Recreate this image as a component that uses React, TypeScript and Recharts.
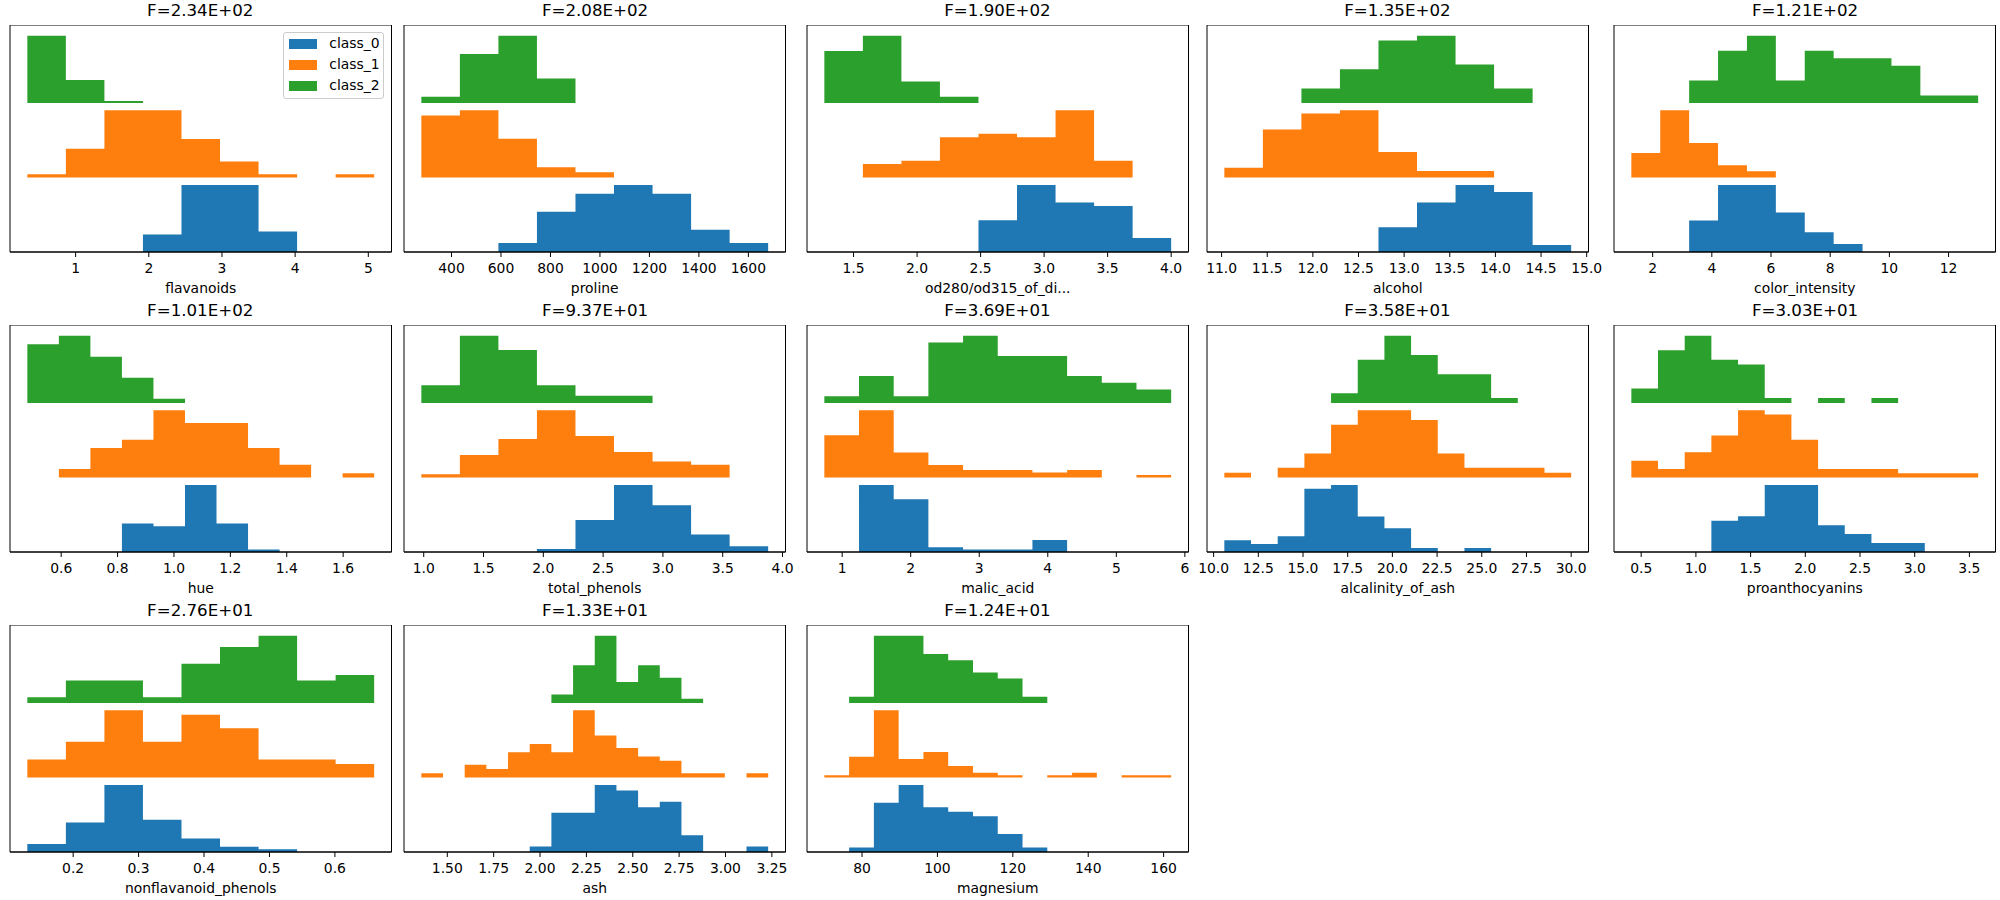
import { ComposedChart, Area, XAxis, YAxis, ReferenceArea } from 'recharts';

const FONT = '"DejaVu Sans", Verdana, sans-serif';

const classNames = ['class_0', 'class_1', 'class_2'];
const classColors = ['#1f77b4', '#ff7f0e', '#2ca02c'];

const featureNames = [
  'flavanoids', 'proline', 'od280/od315_of_di...', 'alcohol', 'color_intensity',
  'hue', 'total_phenols', 'malic_acid', 'alcalinity_of_ash', 'proanthocyanins',
  'nonflavanoid_phenols', 'ash', 'magnesium',
];
const fScores = [
  'F=2.34E+02', 'F=2.08E+02', 'F=1.90E+02', 'F=1.35E+02', 'F=1.21E+02',
  'F=1.01E+02', 'F=9.37E+01', 'F=3.69E+01', 'F=3.58E+01', 'F=3.03E+01',
  'F=2.76E+01', 'F=1.33E+01', 'F=1.24E+01',
];

// feature min / max (histogram range)
const rangeLow = [0.34, 278, 1.27, 11.03, 1.28, 0.48, 0.98, 0.74, 10.6, 0.41, 0.13, 1.36, 70];
const rangeHigh = [5.08, 1680, 4.0, 14.83, 13.0, 1.71, 3.88, 5.8, 30.0, 3.58, 0.66, 3.23, 162];

// bin counts per class: [class_0, class_1, class_2]
const flavanoids = [
  [0, 0, 0, 6, 23, 23, 7, 0, 0],
  [1, 9, 21, 21, 12, 5, 1, 0, 1],
  [35, 12, 1, 0, 0, 0, 0, 0, 0],
];
const proline = [
  [0, 0, 2, 9, 13, 15, 13, 5, 2],
  [24, 26, 15, 4, 2, 0, 0, 0, 0],
  [2, 16, 22, 8, 0, 0, 0, 0, 0],
];
const od280 = [
  [0, 0, 0, 0, 9, 19, 14, 13, 4],
  [0, 4, 5, 12, 13, 12, 20, 5, 0],
  [17, 22, 7, 2, 0, 0, 0, 0, 0],
];
const alcohol = [
  [0, 0, 0, 0, 7, 14, 19, 17, 2],
  [3, 15, 20, 21, 8, 2, 2, 0, 0],
  [0, 0, 3, 7, 13, 14, 8, 3, 0],
];
const colorIntensity = [
  [0, 0, 8, 17, 17, 10, 5, 2, 0, 0, 0, 0],
  [12, 33, 17, 6, 3, 0, 0, 0, 0, 0, 0, 0],
  [0, 0, 3, 7, 9, 3, 7, 6, 6, 5, 1, 1],
];
const hue = [
  [0, 0, 0, 11, 10, 26, 11, 1, 0, 0, 0],
  [0, 2, 7, 9, 16, 13, 13, 7, 3, 0, 1],
  [14, 16, 11, 6, 1, 0, 0, 0, 0, 0, 0],
];
const totalPhenols = [
  [0, 0, 0, 1, 11, 23, 16, 6, 2],
  [1, 7, 12, 21, 13, 8, 5, 4, 0],
  [5, 19, 15, 5, 2, 2, 0, 0, 0],
];
const malicAcid = [
  [0, 28, 22, 2, 1, 1, 5, 0, 0, 0],
  [17, 27, 10, 5, 3, 3, 2, 3, 0, 1],
  [1, 4, 1, 9, 10, 7, 7, 4, 3, 2],
];
const alcalinity = [
  [3, 2, 4, 16, 17, 9, 6, 1, 0, 1, 0, 0, 0],
  [1, 0, 2, 5, 11, 14, 14, 12, 5, 2, 2, 2, 1],
  [0, 0, 0, 0, 2, 9, 14, 10, 6, 6, 1, 0, 0],
];
const proanthocyanins = [
  [0, 0, 0, 7, 8, 15, 15, 6, 4, 2, 2, 0, 0],
  [4, 2, 6, 10, 16, 15, 9, 2, 2, 2, 1, 1, 1],
  [3, 11, 14, 9, 8, 1, 0, 1, 0, 1, 0, 0, 0],
];
const nonflavanoid = [
  [3, 11, 25, 12, 5, 2, 1, 0, 0],
  [4, 8, 15, 8, 14, 11, 4, 4, 3],
  [1, 4, 4, 1, 7, 10, 12, 4, 5],
];
const ash = [
  [0, 0, 0, 0, 0, 1, 7, 7, 12, 11, 8, 9, 3, 0, 0, 1],
  [1, 0, 3, 2, 6, 8, 6, 16, 10, 7, 5, 4, 1, 1, 0, 1],
  [0, 0, 0, 0, 0, 0, 2, 9, 16, 5, 9, 6, 1, 0, 0, 0],
];
const magnesium = [
  [0, 1, 11, 15, 10, 9, 8, 4, 1, 0, 0, 0, 0, 0],
  [1, 9, 29, 8, 11, 5, 2, 1, 0, 1, 2, 0, 1, 1],
  [0, 1, 11, 11, 8, 7, 5, 4, 1, 0, 0, 0, 0, 0],
];

const binCounts = [
  flavanoids, proline, od280, alcohol, colorIntensity, hue, totalPhenols,
  malicAcid, alcalinity, proanthocyanins, nonflavanoid, ash, magnesium,
];

const tickLabels = [
  ['1', '2', '3', '4', '5'],
  ['400', '600', '800', '1000', '1200', '1400', '1600'],
  ['1.5', '2.0', '2.5', '3.0', '3.5', '4.0'],
  ['11.0', '11.5', '12.0', '12.5', '13.0', '13.5', '14.0', '14.5', '15.0'],
  ['2', '4', '6', '8', '10', '12'],
  ['0.6', '0.8', '1.0', '1.2', '1.4', '1.6'],
  ['1.0', '1.5', '2.0', '2.5', '3.0', '3.5', '4.0'],
  ['1', '2', '3', '4', '5', '6'],
  ['10.0', '12.5', '15.0', '17.5', '20.0', '22.5', '25.0', '27.5', '30.0'],
  ['0.5', '1.0', '1.5', '2.0', '2.5', '3.0', '3.5'],
  ['0.2', '0.3', '0.4', '0.5', '0.6'],
  ['1.50', '1.75', '2.00', '2.25', '2.50', '2.75', '3.00', '3.25'],
  ['80', '100', '120', '140', '160'],
];

// layout (px)
const colLeft = [9.5, 404.3, 806.7, 1206.7, 1614.3];
const rowTop = [25, 325, 625];
const PW = 381.5;
const PH = 227;
const SIDE = 30;
const AXIS_H = 41;
const BAR_H = 0.9;
const Y_MAX = 2.9 * 1.05;

function classSeries(counts: number[], lo: number, hi: number, offset: number) {
  const n = counts.length;
  const peak = Math.max(...counts);
  const pts = counts.map((c, i) => ({
    x: lo + ((hi - lo) * i) / n,
    v: [offset, offset + (BAR_H * c) / peak],
  }));
  pts.push({ x: hi, v: pts[n - 1].v });
  return pts;
}

function Panel({ idx }: { idx: number }) {
  const col = idx % 5;
  const row = Math.floor(idx / 5);
  const lo = rangeLow[idx];
  const hi = rangeHigh[idx];
  const pad = (hi - lo) * 0.05;
  const domain = [lo - pad, hi + pad];
  const labels = tickLabels[idx];
  const ticks = labels.map(Number);
  const left = colLeft[col];
  const top = rowTop[row];
  const txt = { fill: '#000', fontSize: 13.9, fontFamily: FONT };

  return (
    <>
      <div
        style={{
          position: 'absolute', left, top: top - 22.4, width: PW, textAlign: 'center',
          fontFamily: FONT, fontSize: 16.67, lineHeight: 1, color: '#000',
        }}
      >
        {fScores[idx]}
      </div>
      <div style={{ position: 'absolute', left: left - SIDE, top }}>
        <ComposedChart
          width={PW + SIDE * 2}
          height={PH + AXIS_H + 12}
          margin={{ top: 0, right: SIDE, bottom: 12, left: SIDE }}
          style={{ overflow: 'visible' }}
        >
          {binCounts[idx].map((counts, c) => (
            <Area
              key={classNames[c]}
              data={classSeries(counts, lo, hi, c)}
              dataKey="v"
              type="stepAfter"
              fill={classColors[c]}
              fillOpacity={1}
              stroke="none"
              dot={false}
              activeDot={false}
              isAnimationActive={false}
            />
          ))}
          <XAxis
            dataKey="x"
            type="number"
            domain={domain}
            allowDataOverflow
            ticks={ticks}
            interval={0}
            tickFormatter={(v: number) => labels[ticks.indexOf(v)] ?? String(v)}
            tickSize={5}
            tickMargin={6}
            height={AXIS_H}
            axisLine={{ stroke: '#000', strokeWidth: 1 }}
            tickLine={{ stroke: '#000', strokeWidth: 1 }}
            tick={txt}
            label={{ value: featureNames[idx], position: 'insideBottom', offset: 0, ...txt }}
          />
          <YAxis type="number" domain={[0, Y_MAX]} allowDataOverflow hide />
          <ReferenceArea
            x1={domain[0]}
            x2={domain[1]}
            y1={0}
            y2={Y_MAX}
            fill="none"
            fillOpacity={0}
            stroke="#000"
            strokeWidth={1}
            strokeOpacity={1}
            ifOverflow="visible"
          />
        </ComposedChart>
      </div>
    </>
  );
}

function Legend() {
  const centers = [11.3, 32.3, 53.3];
  return (
    <div
      style={{
        position: 'absolute', left: 283.3, top: 31.7, width: 101, height: 67.3,
        boxSizing: 'border-box', border: '1px solid #cccccc', borderRadius: 3,
        background: 'rgba(255,255,255,0.8)',
      }}
    >
      {classNames.map((name, i) => (
        <div key={name}>
          <div
            style={{
              position: 'absolute', left: 4.4, top: centers[i] - 4.7, width: 28, height: 9.4,
              background: classColors[i],
            }}
          />
          <div
            style={{
              position: 'absolute', left: 45, top: centers[i] - 6.7, fontFamily: FONT,
              fontSize: 13.9, lineHeight: 1, color: '#000', whiteSpace: 'nowrap',
            }}
          >
            {name}
          </div>
        </div>
      ))}
    </div>
  );
}

export default function App() {
  return (
    <div
      style={{
        position: 'absolute', left: 0, top: 0, width: 2000, height: 900,
        background: '#fff', overflow: 'hidden',
      }}
    >
      {featureNames.map((_, i) => (
        <Panel key={i} idx={i} />
      ))}
      <Legend />
    </div>
  );
}
